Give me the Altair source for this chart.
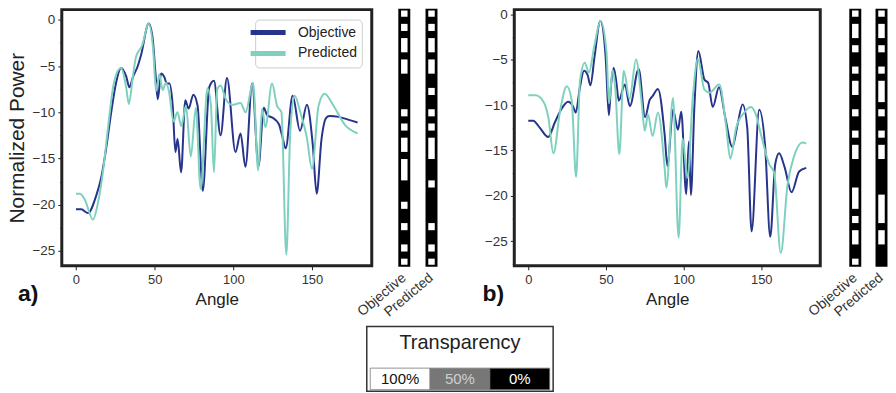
import altair as alt
import pandas as pd

NAVY = "#27348b"
TEAL = "#7fd1bf"

# ---------------- panel a ----------------
A_OBJ_ANGLE = [0, 3.4, 7.6, 12.9, 16, 19.2, 22.4, 25.5, 28.7, 31.9, 34, 36.2, 39.3, 41.4, 46.3, 48.8, 50.5, 52, 54.1, 56.2,
               57.7, 59.4, 61.5, 63.2, 64.6, 66.8, 69.5, 71.6, 74.6, 77.3, 80.6, 84.7, 87.7, 91.9, 96.0, 101.4, 104.6, 107.7, 112.0, 116.0,
               119.4, 121.4, 125, 129, 131, 133.3, 137.7, 142.4, 146.8, 150.5, 153, 156, 159, 161, 167, 173, 179]
A_OBJ_POWER = [-20.5, -20.5, -20.9, -19.0, -17.1, -13.9, -10.0, -6.8, -5.2, -6.1, -7.3, -6.2, -5.0, -3.8, -0.4, -2.1, -5.7, -8.6, -5.8, -6.2,
               -6.9, -6.9, -9.3, -14.3, -12.9, -16.5, -8.7, -9.6, -8.1, -9.3, -18.5, -7.3, -6.6, -12.5, -6.3, -14.3, -12.3, -15.9, -6.9, -15.8,
               -9.5, -10.3, -10.6, -11.3, -12.5, -13.9, -8.2, -12.0, -9.2, -13.5, -18.8, -13.0, -10.6, -10.4, -10.5, -10.8, -11.1]
A_PRED_ANGLE = [0, 2.5, 5.5, 10.8, 14, 17.1, 20.3, 23.4, 26.6, 28.7, 31.9, 33.6, 36.2, 38.2, 42, 46.3, 49.2, 50.9, 53, 55.1,
                57.2, 59.2, 62, 64.5, 67, 69.9, 73, 76.2, 79.2, 83.6, 85.8, 87.7, 89.8, 92, 95, 99.3, 104.6, 107.8, 112.6, 115.8,
                118.3, 120.4, 124.6, 127.8, 130.6, 133.7, 136.2, 139, 142.6, 146.8, 150, 154.2, 158, 163.7, 171.1, 179]
A_PRED_POWER = [-18.8, -18.8, -19.4, -21.6, -19.8, -16.5, -11.8, -7.5, -5.5, -5.2, -7.3, -9.1, -6.1, -4.0, -2.8, -0.4, -3.5, -7.7, -5.9, -7.6,
                -6.8, -7.8, -11.0, -10.0, -11.5, -9.3, -14.8, -9.5, -18.3, -7.4, -9.3, -16.5, -7.5, -7.1, -8.5, -9.2, -9.0, -10.0, -6.8, -16.3,
                -9.6, -11.6, -6.9, -9.3, -10.0, -25.4, -12.2, -8.2, -10.0, -12.8, -16.1, -9.3, -8.0, -9.3, -11.4, -12.3]

# ---------------- panel b ----------------
B_OBJ_ANGLE = [0, 3.2, 7.5, 12.8, 17.1, 21.4, 25.6, 28.8, 30.6, 33.1, 35.9, 38.3, 40, 42.7, 46.4, 49.8, 51.9, 53.2, 55, 56.6,
               58.3, 62.2, 65.4, 71.1, 75.2, 78.2, 80, 83.5, 87.8, 89.6, 93.2, 96.4, 98.5, 101.7, 103.4, 104.7, 107, 109.5, 113.5, 115.8,
               118.8, 122.8, 126.9, 131.4, 134.8, 138, 141, 143.8, 148.7, 152.5, 155.8, 159, 161.5, 165, 169.5, 174.4, 179]
B_OBJ_POWER = [-11.7, -11.7, -12.5, -13.5, -11.9, -10.4, -9.6, -10.1, -10.8, -8.2, -6.2, -6.7, -7.8, -4.6, -0.7, -4.6, -11.1, -8.0, -5.9, -7.3,
               -9.5, -7.7, -10.1, -6.0, -11.3, -9.4, -9.0, -8.2, -13.2, -16.7, -10.5, -12.7, -10.7, -19.8, -14.0, -19.9, -10.0, -4.0, -7.2, -7.5,
               -10.2, -8.0, -11.4, -14.6, -12.1, -9.9, -12.5, -23.9, -10.5, -14.5, -24.5, -16.5, -15.3, -16.8, -19.6, -17.3, -16.9]
B_PRED_ANGLE = [0, 4.7, 9.8, 13, 16.2, 20.5, 24.8, 28, 30.8, 33.3, 36.4, 39, 42.5, 46.6, 50.4, 52, 54.3, 56, 58.6, 61.5,
                65.2, 69.4, 72.9, 75, 77.1, 80, 83.5, 87.8, 88.9, 93.2, 96.8, 99.4, 102.5, 106, 109.2, 113.5, 116.7, 123, 127.4, 130.1,
                133.8, 139.1, 143.4, 146.5, 149.8, 155.1, 158.3, 162.6, 166.9, 171.2, 176.5, 179]
B_PRED_POWER = [-8.9, -8.9, -9.6, -11.4, -15.3, -10.6, -7.9, -9.5, -17.9, -7.3, -5.3, -6.4, -3.5, -0.7, -4.2, -9.8, -6.1, -8.0, -15.4, -6.2,
                -9.3, -4.95, -9.5, -12.8, -11.0, -13.4, -10.8, -16.9, -19.1, -9.2, -24.6, -13.7, -18.0, -9.0, -4.9, -8.3, -8.6, -7.7, -12.3, -15.9,
                -12.5, -10.8, -10.2, -11.0, -13.2, -16.5, -17.4, -26.3, -18.8, -15.6, -14.1, -14.2]

# ---------------- transparency strips (36 elements, % transparency) ----------------
STRIP_LABELS = ["Objective", "Predicted"]
A_OBJ_CELLS = [100, 0, 100, 0, 100, 100, 0, 100, 100, 0, 0, 0, 0, 0, 100, 0, 100, 0, 100, 100,
               0, 100, 100, 100, 0, 0, 0, 100, 0, 0, 100, 0, 0, 100, 0, 100]
A_PRED_CELLS = [100, 0, 100, 0, 100, 100, 0, 100, 100, 0, 0, 100, 0, 0, 100, 0, 100, 0, 100, 100,
                100, 0, 0, 0, 100, 0, 0, 0, 0, 0, 100, 0, 0, 100, 0, 100]
B_OBJ_CELLS = [100, 0, 100, 100, 0, 100, 0, 0, 100, 0, 100, 100, 0, 0, 100, 0, 0, 100, 0, 100,
               100, 0, 0, 0, 0, 100, 100, 100, 0, 100, 0, 100, 100, 0, 0, 100]
B_PRED_CELLS = [100, 0, 100, 100, 0, 100, 0, 0, 100, 0, 100, 100, 100, 0, 100, 0, 0, 100, 0, 100,
                100, 0, 0, 0, 0, 0, 100, 100, 100, 100, 0, 100, 100, 0, 0, 0]

LEGEND_LABELS = ["100%", "50%", "0%"]
LEGEND_VALUES = [100, 50, 0]

SERIES = ["Objective", "Predicted"]
FONT = "Liberation Sans"


def series_df(angles, powers, name):
    return pd.DataFrame({"angle": angles, "power": powers, "series": name})


def line_panel(df, ydomain, yticks, width, show_legend, ytitle, letter, letter_dx):
    if show_legend:
        legend = alt.Legend(title=None, orient="top-right", offset=10,
                            symbolType="M-2.7,0H2.7", symbolSize=169, symbolStrokeWidth=5,
                            labelFontSize=14, labelColor="#222", labelOffset=21, labelFont=FONT,
                            padding=4, strokeColor="#cccccc", fillColor="white", cornerRadius=4,
                            rowPadding=1)
    else:
        legend = None
    yaxis_kwargs = dict(values=yticks,
                        labelExpr="datum.value % 5 == 0 ? datum.label : ''",
                        tickSize={"condition": {"test": "datum.value % 5 != 0", "value": 2}, "value": 4},
                        labelFontSize=13.5, labelPadding=3, grid=False)
    if ytitle:
        yaxis = alt.Axis(title=ytitle, titleFontSize=21, titlePadding=5, **yaxis_kwargs)
    else:
        yaxis = alt.Axis(title=None, **yaxis_kwargs)
    return alt.Chart(df).mark_line(strokeWidth=2, interpolate="monotone", clip=True).encode(
        x=alt.X("angle:Q", scale=alt.Scale(domain=[-9, 188], nice=False, zero=False),
                axis=alt.Axis(values=[0, 50, 100, 150], title="Angle", titleFontSize=17, titlePadding=5,
                              labelFontSize=13, labelPadding=4, tickSize=4, grid=False, labelFlush=False)),
        y=alt.Y("power:Q", scale=alt.Scale(domain=ydomain, nice=False, zero=False), axis=yaxis),
        color=alt.Color("series:N", scale=alt.Scale(domain=SERIES, range=[NAVY, TEAL]), legend=legend),
    ).properties(
        width=width, height=257,
        view=alt.ViewBackground(stroke="#222222", strokeWidth=3),
        title=alt.TitleParams(letter, orient="bottom", anchor="start", frame="group", dx=letter_dx, dy=-29,
                              fontSize=23, fontWeight="bold", color="#111"),
    )


def runs(cells, label):
    rows = []
    i = 0
    n = len(cells)
    while i < n:
        j = i
        while j + 1 < n and cells[j + 1] == cells[i]:
            j += 1
        if cells[i] > 0:
            rows.append({"label": label, "start": i, "end": j + 1, "transp": cells[i]})
        i = j + 1
    return rows


def strip_panel(cells_obj, cells_pred, width):
    n = len(cells_obj)
    bg = pd.DataFrame({"label": STRIP_LABELS, "start": [0, 0], "end": [n, n]})
    rn = pd.DataFrame(runs(cells_obj, "Objective") + runs(cells_pred, "Predicted"))
    x = alt.X("label:N", sort=STRIP_LABELS, scale=alt.Scale(paddingInner=0, paddingOuter=0),
              axis=alt.Axis(title=None, labelAngle=-40, labelAlign="right", labelBaseline="middle",
                            labelPadding=10, ticks=False, domain=False, labelFontSize=14, labelColor="#333"))
    ysc = alt.Scale(domain=[0, n], reverse=True, nice=False, zero=False)
    back = alt.Chart(bg).mark_bar(width=10, color="black").encode(
        x=x, y=alt.Y("start:Q", scale=ysc, axis=None), y2="end:Q")
    white = alt.Chart(rn).mark_bar(width=6.5).encode(
        x=x, y=alt.Y("start:Q", scale=ysc, axis=None), y2="end:Q",
        fill=alt.Fill("transp:Q", scale=alt.Scale(domain=[0, 100], range=["black", "white"]), legend=None))
    outline = alt.Chart(bg).mark_bar(width=10, fillOpacity=0, stroke="black", strokeWidth=2).encode(
        x=x, y=alt.Y("start:Q", scale=ysc, axis=None), y2="end:Q")
    return alt.layer(back, white, outline).properties(width=width, height=257)


def gap(w, h):
    return alt.Chart(pd.DataFrame({"v": [0]})).mark_point(opacity=0).encode(
        x=alt.value(0), y=alt.value(0)).properties(width=w, height=h)


df_a = pd.concat([series_df(A_OBJ_ANGLE, A_OBJ_POWER, "Objective"),
                  series_df(A_PRED_ANGLE, A_PRED_POWER, "Predicted")])
df_b = pd.concat([series_df(B_OBJ_ANGLE, B_OBJ_POWER, "Objective"),
                  series_df(B_PRED_ANGLE, B_PRED_POWER, "Predicted")])

ticks_a = [0, -2.5, -5, -7.5, -10, -12.5, -15, -17.5, -20, -22.5, -25]
ticks_b = ticks_a + [-27.5]

plot_a = line_panel(df_a, [-26.6, 1.1], ticks_a, 311, True, "Normalized Power", "a)", -44)
plot_b = line_panel(df_b, [-27.7, 0.55], ticks_b, 307, False, None, "b)", -32)

strips_a = strip_panel(A_OBJ_CELLS, A_PRED_CELLS, 54.6)
strips_b = strip_panel(B_OBJ_CELLS, B_PRED_CELLS, 52.6)

# transparency key
leg_df = pd.DataFrame({"label": LEGEND_LABELS, "transp": LEGEND_VALUES})
leg_x = alt.X("label:N", sort=LEGEND_LABELS, scale=alt.Scale(paddingInner=0, paddingOuter=0.058), axis=None)
leg_cells = alt.Chart(leg_df).mark_rect(stroke="#777777", strokeWidth=0.8).encode(
    x=leg_x, y=alt.value(41.7), y2=alt.value(63.3),
    fill=alt.Fill("transp:Q", scale=alt.Scale(domain=[0, 100], range=["black", "white"]), legend=None))
leg_text = alt.Chart(leg_df).mark_text(fontSize=15, font=FONT).encode(
    x=leg_x, y=alt.value(52.5), text="label:N",
    color=alt.Color("transp:O", scale=alt.Scale(domain=LEGEND_VALUES, range=["#111111", "#cfcfcf", "#ffffff"]),
                    legend=None))
leg_title = alt.Chart(pd.DataFrame({"t": ["Transparency"]})).mark_text(fontSize=20, font=FONT, color="#222").encode(
    text="t:N", x=alt.value(93.5), y=alt.value(17))
key = alt.layer(leg_cells, leg_text, leg_title).properties(
    width=187, height=65, view=alt.ViewBackground(stroke="#333333", strokeWidth=1.5))

top = alt.hconcat(plot_a, gap(19, 257), strips_a, gap(68.35, 257), plot_b, gap(21.85, 257), strips_b,
                  spacing=0, bounds="flush").resolve_scale(color="independent", fill="independent")
bottom = alt.hconcat(gap(1, 65), key, spacing=305, bounds="flush").resolve_scale(color="independent", fill="independent")

chart = alt.vconcat(top, bottom, spacing=3).resolve_scale(
    color="independent", fill="independent"
).properties(
    padding={"left": 4, "top": 5, "right": 0, "bottom": 0}
).configure(
    font=FONT
).configure_view(
    stroke="transparent"
).configure_axis(
    labelColor="#333333", tickColor="#222222", titleColor="#222222", titleFontWeight="normal",
    domain=False, labelFont=FONT, titleFont=FONT
)

chart.save("out.html", embed_options={"renderer": "svg", "actions": False})
